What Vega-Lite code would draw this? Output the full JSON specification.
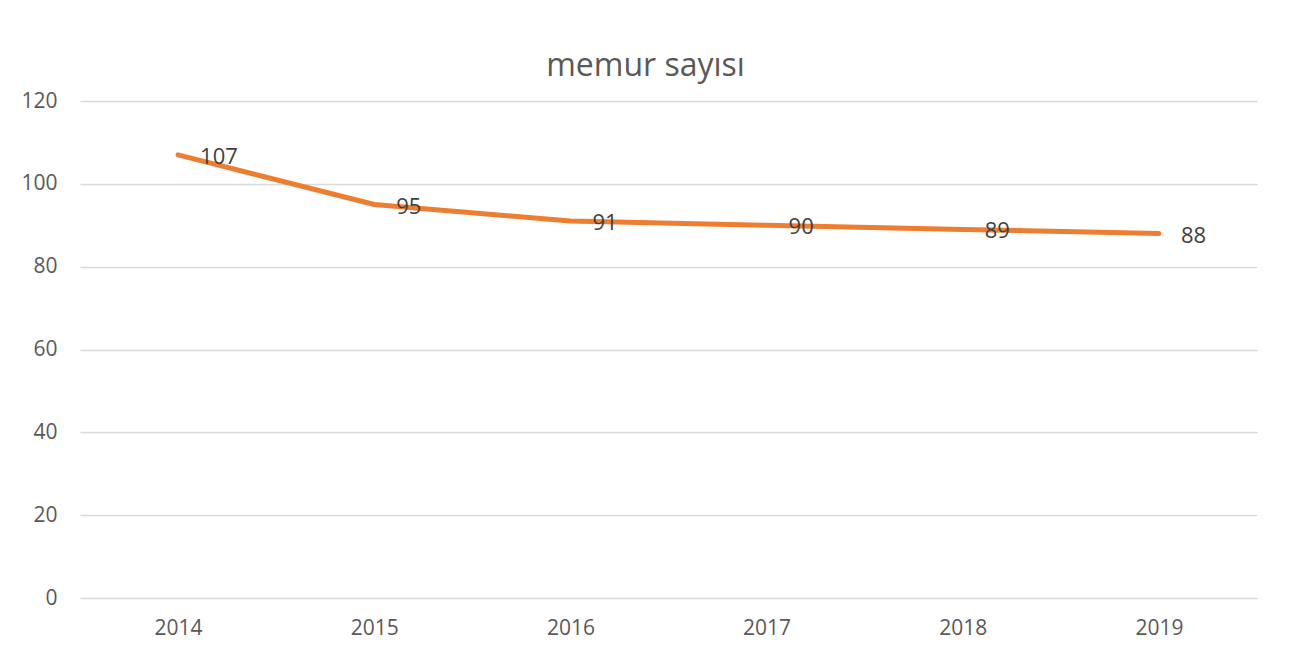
{
  "$schema": "https://vega.github.io/schema/vega-lite/v6.json",
  "width": 1177,
  "height": 497,
  "autosize": "none",
  "padding": {"left": 80, "top": 101, "right": 41, "bottom": 60},
  "background": "white",
  "config": {
    "view": {"stroke": null},
    "font": "Open Sans"
  },
  "title": {
    "text": "memur sayısı",
    "fontSize": 32,
    "fontWeight": "normal",
    "color": "#595959",
    "font": "Open Sans",
    "anchor": "middle",
    "baseline": "alphabetic",
    "offset": -18,
    "dx": -23
  },
  "data": {
    "values": [
      {"yil": "2014", "sayi": 107},
      {"yil": "2015", "sayi": 95},
      {"yil": "2016", "sayi": 91},
      {"yil": "2017", "sayi": 90},
      {"yil": "2018", "sayi": 89},
      {"yil": "2019", "sayi": 88}
    ]
  },
  "encoding": {
    "x": {
      "field": "yil",
      "type": "ordinal",
      "scale": {"type": "point", "padding": 0.5},
      "axis": {
        "title": null,
        "labelAngle": 0,
        "domain": false,
        "ticks": false,
        "grid": false,
        "labelFontSize": 21,
        "labelColor": "#595959",
        "labelPadding": 19
      }
    },
    "y": {
      "field": "sayi",
      "type": "quantitative",
      "scale": {"domain": [0, 120], "nice": false},
      "axis": {
        "title": null,
        "values": [0, 20, 40, 60, 80, 100, 120],
        "domain": false,
        "ticks": false,
        "grid": true,
        "gridColor": "#d9d9d9",
        "gridWidth": 1.5,
        "labelFontSize": 21,
        "labelColor": "#595959",
        "labelPadding": 23
      }
    }
  },
  "layer": [
    {
      "mark": {"type": "line", "color": "#ED7D31", "strokeWidth": 5, "strokeCap": "round", "strokeJoin": "round"}
    },
    {
      "mark": {"type": "text", "align": "left", "baseline": "middle", "dx": 22, "dy": 2, "fontSize": 22, "color": "#404040"},
      "encoding": {"text": {"field": "sayi", "type": "quantitative"}}
    }
  ]
}
